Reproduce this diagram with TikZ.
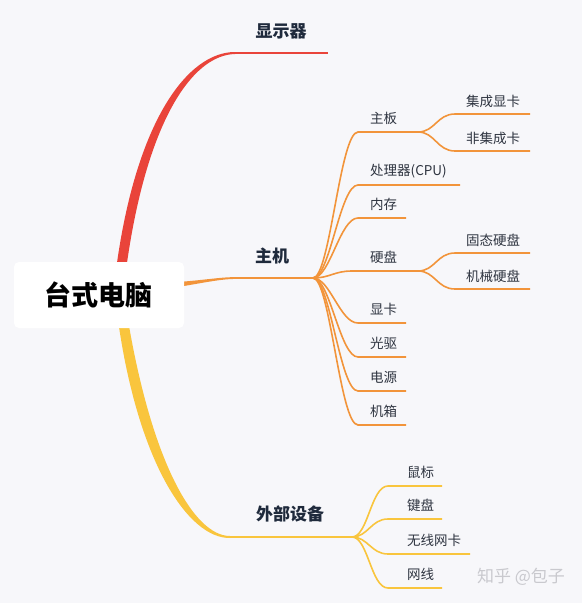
\documentclass[tikz,border=0pt]{standalone}
\usepackage{fontspec}
\setmainfont{Noto Sans CJK SC}
\definecolor{bg}{HTML}{F7F7FA}
\definecolor{cred}{HTML}{E9443A}
\definecolor{corange}{HTML}{F2943A}
\definecolor{cyellow}{HTML}{F9C53D}
\definecolor{navy}{HTML}{1F2A3C}
\definecolor{txt}{HTML}{2E3440}
\definecolor{wm}{HTML}{C9C9CE}
\tikzset{
  mainlabel/.style={font=\bfseries\fontsize{17}{20}\selectfont, text=navy, inner sep=0pt},
  leaf/.style={font=\fontsize{13.5}{16}\selectfont, text=txt, anchor=west, inner sep=0pt},
  oline/.style={draw=corange, line width=1.6pt},
  yline/.style={draw=cyellow, line width=1.6pt},
  centerbox/.style={fill=white, rounded corners=5pt, minimum width=170pt, minimum height=66pt, inner sep=0pt},
}
\begin{document}
\begin{tikzpicture}[x=1pt,y=-1pt]
\useasboundingbox[fill=bg] (0,0) rectangle (582,603);

% ---- main branches (tapered) ----
\coordinate (redR) at (121,270);
\coordinate (redE) at (235,53);
\coordinate (redT) at (328,53);
\fill[cred] (116,270) .. controls (136,120) and (188,52) .. (235,52) -- (235,54)
   .. controls (192,55) and (146,122) .. (126,270) -- cycle;
\draw[cred, line width=1.8pt] (redE) -- (redT);

\coordinate (yelE) at (230,537);
\coordinate (yelT) at (352,537);
\fill[cyellow] (118,320) .. controls (138,462) and (188,538.5) .. (230,538) -- (230,536)
   .. controls (194,536) and (152,462) .. (128,320) -- cycle;
\draw[cyellow, line width=1.8pt] (yelE) -- (yelT);

\coordinate (oraE) at (235,278);
\coordinate (J) at (313,278);
\fill[corange] (178,282) .. controls (205,280) and (220,277.2) .. (235,277.1) -- (235,278.9)
   .. controls (220,279.2) and (205,282.5) .. (178,287) -- cycle;
\draw[corange, line width=1.8pt] (oraE) -- (J);

% ---- centre node ----
\node[centerbox] (root) at (99,295) {};
\node[font=\bfseries\fontsize{27}{30}\selectfont, text=black, inner sep=0pt] (roottxt) at (99,295) {台式电脑};

% ---- main labels ----
\node[mainlabel] (xsq) at (281,31) {显示器};
\node[mainlabel] (zj) at (272,256) {主机};
\node[mainlabel] (wbsb) at (290,514) {外部设备};

% ---- 主机 children ----
\foreach \n/\y/\xs/\xe/\t in {zb/132/358/418/主板, cpu/185/358/460/处理器(CPU), nc/218/358/406/内存, yp/271/352/418/硬盘, xk/323/358/406/显卡, gq/357/358/406/光驱, dy/391/358/406/电源, jx/425/358/406/机箱}{
  \coordinate (\n-s) at (\xs,\y);
  \coordinate (\n-e) at (\xe,\y);
  \draw[oline] (J) .. controls +(17,0) and +(-18,0) .. (\n-s) -- (\n-e);
  \node[leaf] (\n-l) at (370,\y-14) {\t};
}

% ---- sub children ----
\foreach \p/\n/\y/\t in {zb/jcxk/114/集成显卡, zb/fjck/151/非集成卡, yp/gtyp/253/固态硬盘, yp/jxyp/289/机械硬盘}{
  \coordinate (\n-s) at (455,\y);
  \coordinate (\n-e) at (530,\y);
  \draw[oline] (\p-e) .. controls +(17,0) and +(-18,0) .. (\n-s) -- (\n-e);
  \node[leaf] (\n-l) at (466,\y-13) {\t};
}

% ---- 外部设备 children ----
\foreach \n/\y/\xe/\t in {sb/486/442/鼠标, jp/519/442/键盘, wxwk/554/470/无线网卡, wx/588/442/网线}{
  \coordinate (\n-s) at (388,\y);
  \coordinate (\n-e) at (\xe,\y);
  \draw[yline] (yelT) .. controls +(16,0) and +(-17,0) .. (\n-s) -- (\n-e);
  \node[leaf] (\n-l) at (407,\y-14) {\t};
}

% ---- watermark ----
\node[font=\fontsize{17}{20}\selectfont, text=wm, inner sep=0pt] (wmark) at (521,577) {知乎 @包子};
\end{tikzpicture}
\end{document}
